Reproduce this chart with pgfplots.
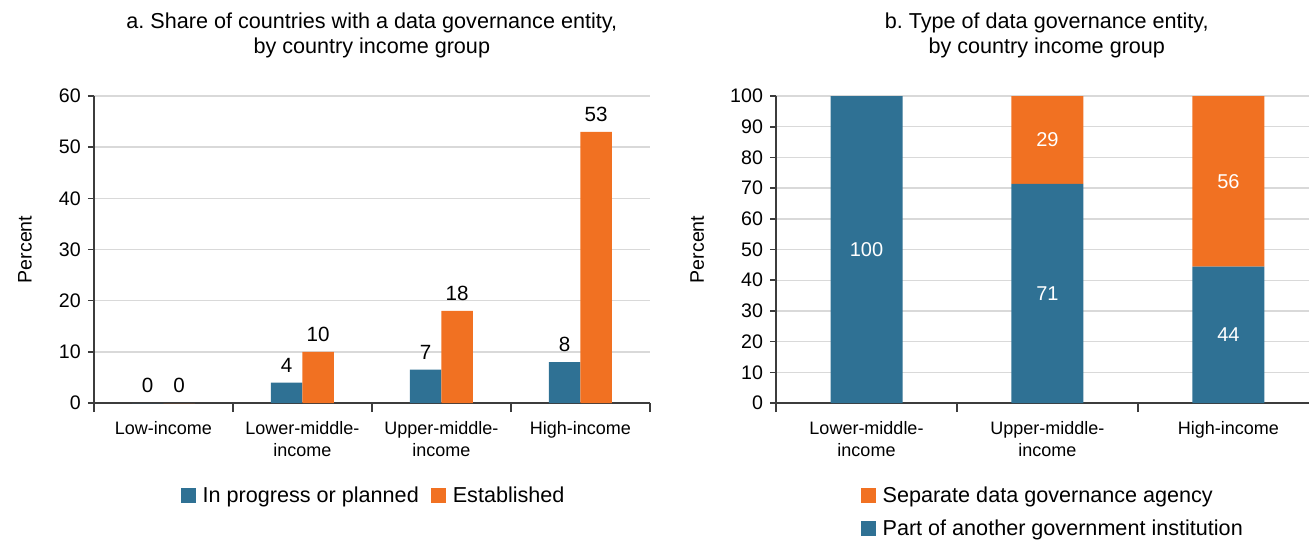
\documentclass[border=0pt]{standalone}
\usepackage{pgfplots}
\pgfplotsset{compat=1.18}
\usepackage{fontspec}
\setmainfont{Liberation Sans}
\frenchspacing
\definecolor{cblue}{RGB}{47,113,148}
\definecolor{corange}{RGB}{241,113,34}
\definecolor{gridgray}{RGB}{217,217,217}
\definecolor{axisgray}{RGB}{60,60,60}
\pgfplotsset{
  common/.style={
    scale only axis, anchor=south west,
    height=153.5pt,
    axis x line*=bottom, axis y line*=left,
    axis line style={draw=axisgray, line width=0.8pt},
    ymajorgrids, grid style={draw=gridgray, line width=0.7pt},
    tick align=outside, major tick length=3pt, minor tick length=4.5pt,
    tick style={axisgray, line width=0.8pt},
    every major x tick/.append style={draw=none},
    /pgf/number format/assume math mode=true,
    yticklabel style={font=\fontsize{9.8}{11}\selectfont},
    xticklabel style={align=center, font=\fontsize{9}{11}\selectfont, yshift=-2.5pt},
    title style={align=center, font=\fontsize{10.8}{12.5}\selectfont, anchor=center},
    every axis y label/.style={rotate=90, anchor=center, font=\fontsize{9.8}{11}\selectfont},
  },
  sqlegend/.style={
    legend image code/.code={\fill[##1, draw=none] (0pt,-3.5pt) rectangle (7.5pt,4pt);},
  },
}
\begin{document}
\begin{tikzpicture}
\useasboundingbox (0,0) rectangle (654.5pt,270.5pt);
% Panel a
\begin{axis}[common,
  at={(46.9pt,69pt)}, width=278pt,
  xmin=-0.5, xmax=3.5, ymin=0, ymax=60,
  ytick={0,10,...,60},
  xtick={0,1,2,3},
  xticklabels={Low-income,{Lower-middle-\\income},{Upper-middle-\\income},High-income},
  minor xtick={-0.5,0.5,1.5,2.5,3.5},
  ybar=0pt, bar width=15.75pt,
  sqlegend,
  nodes near coords, point meta=explicit symbolic,
  every node near coord/.append style={font=\fontsize{10.3}{12}\selectfont, black, yshift=1.5pt},
  title={a. Share of countries with a data governance entity,\\by country income group},
  title style={at={(axis description cs:0.5,1.158)}},
  ylabel={Percent},
  ylabel style={at={(axis description cs:-0.124,0.5)}},
  legend style={at={(axis description cs:0.505,-0.303)}, anchor=center, draw=none,
    legend columns=2, font=\fontsize{10.8}{12.5}\selectfont,
    /tikz/every even column/.append style={column sep=4pt},
    /tikz/every odd column/.append style={column sep=1.5pt}},
]
\addplot[fill=cblue, draw=none] coordinates {(0,0)[0] (1,4)[4] (2,6.5)[7] (3,8)[8]};
\addplot[fill=corange, draw=none] coordinates {(0,0)[0] (1,10)[10] (2,18)[18] (3,53)[53]};
\legend{In progress or planned, Established}
\end{axis}
% Panel b
\begin{axis}[common,
  at={(388pt,69pt)}, width=266.5pt,
  xmin=-0.5, xmax=2.445, ymin=0, ymax=100,
  ytick={0,10,...,100},
  xtick={0,1,2},
  xticklabels={{Lower-middle-\\income},{Upper-middle-\\income},High-income},
  minor xtick={-0.5,0.5,1.5},
  ybar stacked, bar width=36pt,
  sqlegend,
  title={b. Type of data governance entity,\\by country income group},
  title style={at={(axis description cs:0.508,1.158)}},
  ylabel={Percent},
  ylabel style={at={(axis description cs:-0.148,0.5)}},
  reverse legend,
  legend style={at={(axis description cs:0.521,-0.357)}, anchor=center, draw=none,
    legend cell align=left, font=\fontsize{10.8}{12.5}\selectfont, row sep=3pt,
    /tikz/every odd column/.append style={column sep=1.5pt}},
]
\addplot[fill=cblue, draw=none] coordinates {(0,100) (1,71.4) (2,44.4)};
\addplot[fill=corange, draw=none] coordinates {(0,0) (1,28.6) (2,55.6)};
\legend{Part of another government institution, Separate data governance agency}
\end{axis}
% Panel b labels
\begin{axis}[scale only axis, anchor=south west, at={(388pt,69pt)}, width=266.5pt, height=153.5pt,
  xmin=-0.5, xmax=2.445, ymin=0, ymax=100, hide axis,
  nodes near coords, point meta=explicit symbolic,
  nodes near coords align={center},
  every node near coord/.append style={font=\fontsize{10}{12}\selectfont, white, anchor=center},
]
\addplot[draw=none, mark=none] coordinates {(0,50)[100] (1,85.7)[29] (1,35.7)[71] (2,72.2)[56] (2,22.2)[44]};
\end{axis}
\end{tikzpicture}
\end{document}
